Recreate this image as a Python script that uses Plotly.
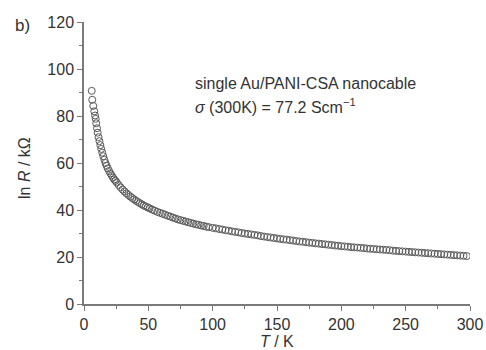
import plotly.graph_objects as go

temperature_K = [
    6.0, 6.4, 7.2, 8.0, 8.6, 9.1, 9.5, 10.1, 10.6, 11.3, 12.0, 12.7, 13.4, 14.2, 15.0,
    15.8, 16.7, 17.6, 18.5, 19.5, 20.5, 21.5, 22.5, 23.5, 24.5, 25.5, 27.0, 28.5, 30.0,
    31.5, 33.0, 34.5, 36.0, 37.5, 39.0, 40.5, 42.0, 43.5, 45.0, 46.5, 48.0, 49.5,
    51, 53, 55, 57, 59, 61, 63, 65, 67, 69, 71, 73, 75, 77, 79, 81, 83, 85, 87, 89,
    91, 93, 95, 97,
    100, 102.5, 105, 107.5, 110, 112.5, 115, 117.5, 120, 122.5, 125, 127.5, 130, 132.5,
    135, 137.5, 140, 142.5, 145, 147.5, 150, 152.5, 155, 157.5, 160, 162.5, 165, 167.5,
    170, 172.5, 175, 177.5, 180, 182.5, 185, 187.5, 190, 192.5, 195, 197.5, 200, 202.5,
    205, 207.5, 210, 212.5, 215, 217.5, 220, 222.5, 225, 227.5, 230, 232.5, 235, 237.5,
    240, 242.5, 245, 247.5, 250, 252.5, 255, 257.5, 260, 262.5, 265, 267.5, 270, 272.5,
    275, 277.5, 280, 282.5, 285, 287.5, 290, 292.5, 295, 297.5,
]

ln_R = [
    90.7, 86.9, 84.3, 82.0, 80.2, 78.8, 76.9, 74.8, 72.9, 71.0, 69.3, 67.6, 66.0, 64.4, 62.9,
    61.4, 60.0, 58.8, 57.7, 56.6, 55.6, 54.7, 53.8, 53.0, 52.4, 51.7, 50.6, 49.6, 48.7,
    47.9, 47.1, 46.4, 45.7, 45.1, 44.5, 43.9, 43.4, 42.9, 42.4, 41.9, 41.5, 41.1,
    40.7, 40.2, 39.7, 39.2, 38.8, 38.4, 38.0, 37.6, 37.2, 36.8, 36.4, 36.0, 35.7, 35.4, 35.1,
    34.8, 34.5, 34.2, 33.9, 33.7, 33.4, 33.2, 32.9, 32.7,
    32.4, 32.2, 31.9, 31.7, 31.4, 31.2, 30.9, 30.7, 30.5, 30.2, 30.0, 29.8, 29.6, 29.4,
    29.2, 28.9, 28.7, 28.5, 28.3, 28.1, 27.9, 27.7, 27.5, 27.4, 27.2, 27.0, 26.8, 26.6,
    26.5, 26.3, 26.1, 26.0, 25.8, 25.7, 25.5, 25.4, 25.2, 25.1, 24.9, 24.8, 24.6, 24.5,
    24.4, 24.2, 24.1, 24.0, 23.9, 23.8, 23.6, 23.5, 23.4, 23.3, 23.2, 23.1, 23.0, 22.9,
    22.7, 22.6, 22.5, 22.4, 22.3, 22.2, 22.1, 22.0, 21.9, 21.8, 21.7, 21.6, 21.5, 21.4,
    21.3, 21.2, 21.1, 21.0, 20.9, 20.8, 20.7, 20.6, 20.5, 20.4,
]

x_ticks = [0, 50, 100, 150, 200, 250, 300]
y_ticks = [0, 20, 40, 60, 80, 100, 120]

FONT = "Liberation Sans, Arial, sans-serif"
TXT = "#333333"
AX = "#7a7a7a"

fig = go.Figure()
fig.add_trace(go.Scatter(
    x=temperature_K, y=ln_R, mode="markers",
    marker=dict(symbol="circle-open", size=7, color="#5a5a5a", line=dict(width=1, color="#5a5a5a")),
    showlegend=False, hoverinfo="skip",
))

axis_common = dict(
    showgrid=False, zeroline=False, showline=True, linecolor=AX, linewidth=1.5,
    ticks="outside", ticklen=5, tickwidth=1.2, tickcolor=AX,
    tickfont=dict(family=FONT, size=16, color=TXT),
    minor=dict(ticks="outside", ticklen=3, tickwidth=1, tickcolor=AX),
    mirror=False, automargin=False,
)

fig.update_xaxes(range=[0, 300], tickvals=x_ticks, ticktext=[str(v) for v in x_ticks],
                 minor_dtick=25, **axis_common)
fig.update_yaxes(range=[0, 120], tickvals=y_ticks, ticktext=[str(v) for v in y_ticks],
                 minor_dtick=10, **axis_common)

fig.update_layout(
    width=486, height=350,
    margin=dict(l=84, r=16, t=22, b=46, autoexpand=False),
    paper_bgcolor="white", plot_bgcolor="white",
    font=dict(family=FONT, size=16, color=TXT),
    annotations=[
        dict(text="b)", xref="paper", yref="paper", x=-84/386, y=1.0, xanchor="left",
             yanchor="middle", showarrow=False, font=dict(size=17, color=TXT, family=FONT),
             xshift=13, yshift=-3),
        dict(text="ln <i>R</i> / kΩ", xref="paper", yref="paper", x=-84/386, y=0.5,
             xanchor="center", yanchor="middle", textangle=-90, showarrow=False,
             xshift=24, yshift=-5, font=dict(size=16, color=TXT, family=FONT)),
        dict(text="<i>T</i> / K", xref="paper", yref="paper", x=0.5, y=0,
             xanchor="center", yanchor="middle", showarrow=False, yshift=-37,
             font=dict(size=16, color=TXT, family=FONT)),
        dict(text="single Au/PANI-CSA nanocable", xref="x", yref="y", x=84.4, y=93.7,
             xanchor="left", yanchor="middle", showarrow=False,
             font=dict(size=16, color=TXT, family=FONT)),
        dict(text="<i>σ</i> (300K) = 77.2 Scm<sup>−1</sup>", xref="x", yref="y", x=84.4, y=84.4,
             xanchor="left", yanchor="middle", showarrow=False,
             font=dict(size=16, color=TXT, family=FONT)),
    ],
)

fig.write_html("out.html")
